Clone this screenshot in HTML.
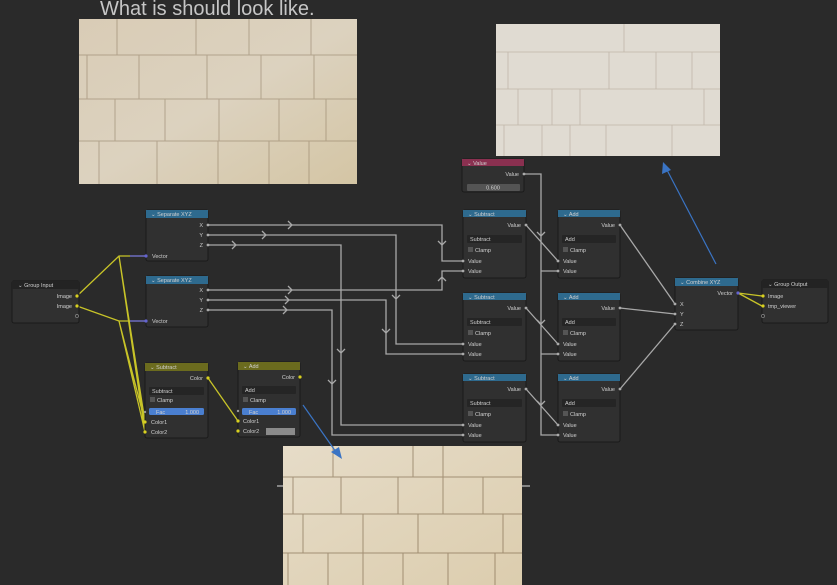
<!DOCTYPE html>
<html><head><meta charset="utf-8"><style>
html,body{margin:0;padding:0;background:#2a2a2a;width:837px;height:585px;overflow:hidden}
svg{display:block}
text{font-family:"Liberation Sans",sans-serif;font-size:5.5px;fill:#d0d0d0}
.n{fill:#303030;stroke:#1a1a1a;stroke-width:1}
.w{stroke:#a8a8a8;stroke-width:1.3;fill:none}
.y{stroke:#c8c428;stroke-width:1.3;fill:none}
.dd{fill:#252525}
.cb{fill:#555}
</style></head><body>
<svg width="837" height="585" viewBox="0 0 837 585" xmlns="http://www.w3.org/2000/svg">
<defs>
<linearGradient id="g1" x1="0" y1="0" x2="1" y2="1"><stop offset="0" stop-color="#d9ccb6"/><stop offset="0.5" stop-color="#dcd2bf"/><stop offset="1" stop-color="#d4c5a4"/></linearGradient>
<linearGradient id="g3" x1="0" y1="0" x2="1" y2="1"><stop offset="0" stop-color="#e6dcc8"/><stop offset="1" stop-color="#dccdae"/></linearGradient>
<pattern id="b1" x="79" y="19" width="280" height="166" patternUnits="userSpaceOnUse">
<rect width="280" height="166" fill="url(#g1)"/>
<g stroke="#7e6a4e" stroke-width="1" fill="none" opacity="0.45">
<path d="M0 36H280M0 80H280M0 122H280"/>
<path d="M38 0V36M117 0V36M170 0V36M232 0V36M8 36V80M60 36V80M128 36V80M182 36V80M235 36V80M36 80V122M86 80V122M140 80V122M200 80V122M247 80V122M20 122V166M78 122V166M139 122V166M190 122V166M230 122V166"/>
</g></pattern>
<pattern id="b2" x="496" y="24" width="224" height="132" patternUnits="userSpaceOnUse">
<rect width="224" height="132" fill="#e0dbd2"/>
<g stroke="#9a8a78" stroke-width="0.8" fill="none" opacity="0.45">
<path d="M0 28H224M0 65H224M0 101H224"/>
<path d="M128 0V28M12 28V65M113 28V65M160 28V65M196 28V65M22 65V101M56 65V101M84 65V101M208 65V101M8 101V132M46 101V132M74 101V132M110 101V132M176 101V132"/>
</g></pattern>
<pattern id="b3" x="283" y="446" width="240" height="140" patternUnits="userSpaceOnUse">
<rect width="240" height="140" fill="url(#g3)"/>
<g stroke="#6d5537" stroke-width="1" fill="none" opacity="0.55">
<path d="M0 31H240M0 68H240M0 107H240"/>
<path d="M50 0V31M130 0V31M160 0V31M10 31V68M58 31V68M115 31V68M160 31V68M200 31V68M20 68V107M80 68V107M135 68V107M220 68V107M5 107V140M45 107V140M80 107V140M120 107V140M165 107V140M212 107V140"/>
</g></pattern>
</defs>

<text x="100" y="15" style="font-size:20px;fill:#c6c6c6">What is should look like.</text>
<rect x="79" y="19" width="278" height="165" fill="url(#b1)"/>
<rect x="496" y="24" width="224" height="132" fill="url(#b2)"/>
<rect x="283" y="446" width="239" height="139" fill="url(#b3)"/>
<path d="M277 486H283M522 486H530" stroke="#ddd" stroke-width="1"/>

<g class="w">
<path d="M208 225H442V261H463"/>
<path d="M208 235H396V344H463"/>
<path d="M208 245H341V425H463"/>
<path d="M208 290H442V271H463"/>
<path d="M208 300H386V354H463"/>
<path d="M208 310H332V435H463"/>
<path d="M524 174H541V435H558M541 271H558M541 354H558"/>
<path d="M526 225L558 261M526 308L558 344M526 389L558 425"/>
<path d="M620 225L675 304M620 308L675 314M620 389L675 324"/>
</g>
<g class="w" stroke-width="1">
<path d="M288 221L292 225L288 229M262 231L266 235L262 239M232 241L236 245L232 249M288 286L292 290L288 294M285 296L289 300L285 304M283 306L287 310L283 314"/>
<path d="M438 241L442 245L446 241M438 281L442 277L446 281M392 295L396 299L400 295M382 329L386 333L390 329M337 349L341 353L345 349M328 380L332 384L336 380M537 232L541 236L545 232M537 320L541 324L545 320M537 401L541 405L545 401"/>
</g>
<g class="y">
<path d="M77 296L119 256H146"/>
<path d="M77 306L119 321H146"/>
<path d="M119 256L145 432M119 256L145 422M119 321L145 432M119 321L145 422"/>
<path d="M208 378L238 421"/>
<path d="M738 293L762 296M738 293L762 306"/>
</g>
<path d="M130 256H146M130 321H146" stroke="#6060c0" stroke-width="1.5"/>
<path d="M303 405L336 452" stroke="#3a74c4" stroke-width="1.2"/>
<path d="M342 459L331 452L339 447Z" fill="#3a74c4"/>
<path d="M716 264L667 170" stroke="#3a74c4" stroke-width="1.2"/>
<path d="M663 162L662 174L671 170Z" fill="#3a74c4"/>

<rect class="n" x="12" y="281" width="67" height="42" rx="2"/>
<rect x="12" y="281" width="67" height="8" fill="#232323"/>
<text x="18" y="287">⌄ Group Input</text>
<text x="72" y="298" text-anchor="end">Image</text>
<text x="72" y="308" text-anchor="end">Image</text>
<circle cx="77" cy="296" r="1.6" fill="#d8d020"/><circle cx="77" cy="306" r="1.6" fill="#d8d020"/>
<circle cx="77" cy="316" r="1.6" fill="none" stroke="#999" stroke-width="0.6"/>

<g>
<rect class="n" x="146" y="210" width="62" height="51" rx="2"/>
<rect x="146" y="210" width="62" height="8" fill="#2e6a8e"/>
<text x="151" y="216">⌄ Separate XYZ</text>
<text x="203" y="227" text-anchor="end">X</text><text x="203" y="237" text-anchor="end">Y</text><text x="203" y="247" text-anchor="end">Z</text>
<text x="152" y="258">Vector</text>
<circle cx="208" cy="225" r="1.4" fill="#aaa"/><circle cx="208" cy="235" r="1.4" fill="#aaa"/><circle cx="208" cy="245" r="1.4" fill="#aaa"/>
<circle cx="146" cy="256" r="1.6" fill="#6464d0"/>
</g>
<g>
<rect class="n" x="146" y="276" width="62" height="51" rx="2"/>
<rect x="146" y="276" width="62" height="8" fill="#2e6a8e"/>
<text x="151" y="282">⌄ Separate XYZ</text>
<text x="203" y="292" text-anchor="end">X</text><text x="203" y="302" text-anchor="end">Y</text><text x="203" y="312" text-anchor="end">Z</text>
<text x="152" y="323">Vector</text>
<circle cx="208" cy="290" r="1.4" fill="#aaa"/><circle cx="208" cy="300" r="1.4" fill="#aaa"/><circle cx="208" cy="310" r="1.4" fill="#aaa"/>
<circle cx="146" cy="321" r="1.6" fill="#6464d0"/>
</g>

<rect class="n" x="145" y="363" width="63" height="75" rx="2"/>
<rect x="145" y="363" width="63" height="8" fill="#6b6b1e"/>
<text x="150" y="369">⌄ Subtract</text>
<text x="203" y="380" text-anchor="end">Color</text>
<rect class="dd" x="149" y="387" width="55" height="8" rx="1"/><text x="152" y="393">Subtract</text>
<rect class="cb" x="150" y="397" width="5" height="5"/><text x="157" y="402">Clamp</text>
<rect x="149" y="408" width="55" height="7" rx="1.5" fill="#4a7fd0"/><text x="156" y="414">Fac</text><text x="199" y="414" text-anchor="end">1.000</text>
<text x="151" y="424">Color1</text><text x="151" y="434">Color2</text>
<circle cx="208" cy="378" r="1.6" fill="#d8d020"/><circle cx="145" cy="422" r="1.6" fill="#d8d020"/><circle cx="145" cy="432" r="1.6" fill="#d8d020"/><circle cx="145" cy="412" r="1.2" fill="#999"/>

<rect class="n" x="238" y="362" width="62" height="75" rx="2"/>
<rect x="238" y="362" width="62" height="8" fill="#6b6b1e"/>
<text x="243" y="368">⌄ Add</text>
<text x="295" y="379" text-anchor="end">Color</text>
<rect class="dd" x="242" y="386" width="54" height="8" rx="1"/><text x="245" y="392">Add</text>
<rect class="cb" x="243" y="397" width="5" height="5"/><text x="250" y="402">Clamp</text>
<rect x="242" y="408" width="54" height="7" rx="1.5" fill="#4a7fd0"/><text x="249" y="414">Fac</text><text x="291" y="414" text-anchor="end">1.000</text>
<text x="243" y="423">Color1</text><text x="243" y="433">Color2</text>
<rect x="266" y="428" width="29" height="7" fill="#8a8a8a"/>
<circle cx="300" cy="377" r="1.6" fill="#d8d020"/><circle cx="238" cy="421" r="1.6" fill="#d8d020"/><circle cx="238" cy="431" r="1.6" fill="#d8d020"/><circle cx="238" cy="411" r="1.2" fill="#999"/>

<rect class="n" x="462" y="159" width="62" height="33" rx="2"/>
<rect x="462" y="159" width="62" height="7" fill="#8a3050"/>
<text x="467" y="165">⌄ Value</text>
<text x="519" y="176" text-anchor="end">Value</text>
<circle cx="524" cy="174" r="1.4" fill="#aaa"/>
<rect x="467" y="184" width="53" height="7" rx="1" fill="#545454"/><text x="493" y="189.5" text-anchor="middle">0.600</text>

<g id="m">
<rect class="n" x="463" y="210" width="63" height="68" rx="2"/>
<rect x="463" y="210" width="63" height="7" fill="#2e6a8e"/>
<text x="468" y="216">⌄ Subtract</text>
<text x="521" y="227" text-anchor="end">Value</text>
<rect class="dd" x="467" y="235" width="55" height="8" rx="1"/><text x="470" y="241">Subtract</text>
<rect class="cb" x="468" y="247" width="5" height="5"/><text x="475" y="252">Clamp</text>
<text x="468" y="263">Value</text><text x="468" y="273">Value</text>
<circle cx="526" cy="225" r="1.4" fill="#aaa"/><circle cx="463" cy="261" r="1.4" fill="#aaa"/><circle cx="463" cy="271" r="1.4" fill="#aaa"/>
</g>
<use href="#m" y="83"/>
<use href="#m" y="164"/>
<g id="a">
<rect class="n" x="558" y="210" width="62" height="68" rx="2"/>
<rect x="558" y="210" width="62" height="7" fill="#2e6a8e"/>
<text x="563" y="216">⌄ Add</text>
<text x="615" y="227" text-anchor="end">Value</text>
<rect class="dd" x="562" y="235" width="54" height="8" rx="1"/><text x="565" y="241">Add</text>
<rect class="cb" x="563" y="247" width="5" height="5"/><text x="570" y="252">Clamp</text>
<text x="563" y="263">Value</text><text x="563" y="273">Value</text>
<circle cx="620" cy="225" r="1.4" fill="#aaa"/><circle cx="558" cy="261" r="1.4" fill="#aaa"/><circle cx="558" cy="271" r="1.4" fill="#aaa"/>
</g>
<use href="#a" y="83"/>
<use href="#a" y="164"/>

<rect class="n" x="675" y="278" width="63" height="52" rx="2"/>
<rect x="675" y="278" width="63" height="8" fill="#2e6a8e"/>
<text x="680" y="284">⌄ Combine XYZ</text>
<text x="733" y="295" text-anchor="end">Vector</text>
<text x="680" y="306">X</text><text x="680" y="316">Y</text><text x="680" y="326">Z</text>
<circle cx="738" cy="293" r="1.6" fill="#6464d0"/>
<circle cx="675" cy="304" r="1.4" fill="#aaa"/><circle cx="675" cy="314" r="1.4" fill="#aaa"/><circle cx="675" cy="324" r="1.4" fill="#aaa"/>

<rect class="n" x="762" y="280" width="66" height="43" rx="2"/>
<rect x="762" y="280" width="66" height="8" fill="#232323"/>
<text x="768" y="286">⌄ Group Output</text>
<text x="768" y="298">Image</text><text x="768" y="308">tmp_viewer</text>
<circle cx="763" cy="296" r="1.6" fill="#d8d020"/><circle cx="763" cy="306" r="1.6" fill="#d8d020"/>
<circle cx="763" cy="316" r="1.6" fill="none" stroke="#999" stroke-width="0.6"/>
</svg>
</body></html>
